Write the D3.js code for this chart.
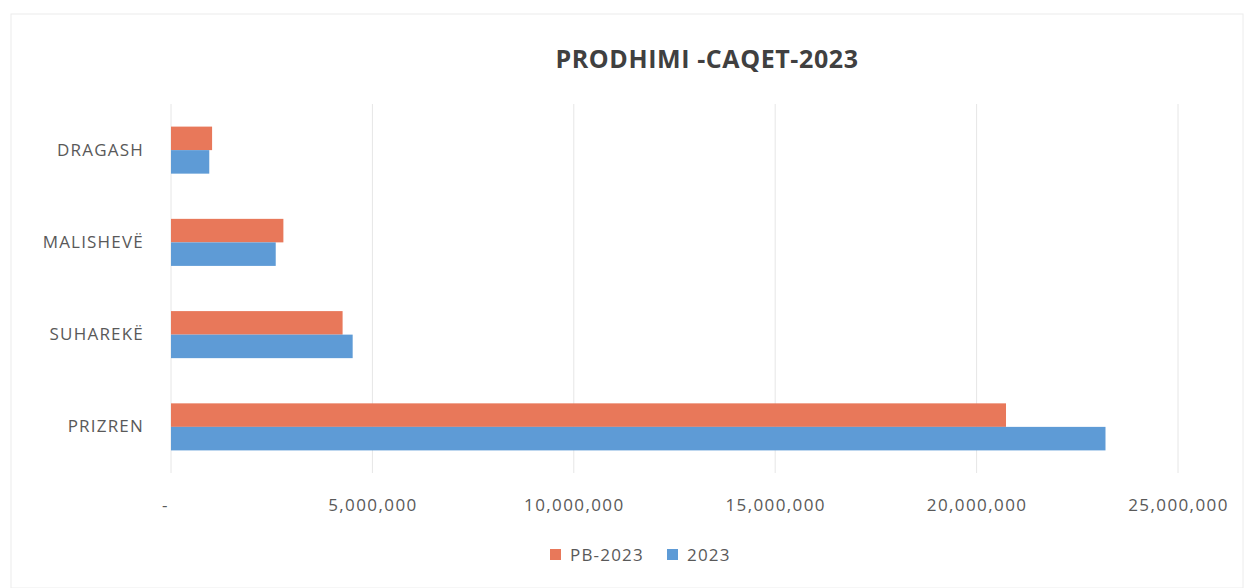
<!DOCTYPE html>
<html>
<head>
<meta charset="utf-8">
<script src="https://cdn.jsdelivr.net/npm/d3@7"></script>
<style>
    body { margin: 0; background: #fff; }
    text { font-family: "Open Sans", "Noto Sans", sans-serif; }
</style>
</head>
<body>
<div id="chart"></div>
<script>
// data
const categories = ["DRAGASH", "MALISHEVË", "SUHAREKË", "PRIZREN"]
const seriesNames = ["PB-2023", "2023"]
const pb2023 = [1020000, 2790000, 4260000, 20730000]
const y2023 = [950000, 2600000, 4510000, 23200000]
const xTicks = [0, 5000000, 10000000, 15000000, 20000000, 25000000]
const colors = ["#E8785A", "#5E9BD6"]

const W = 1254, H = 588
const MARGIN = { LEFT: 171, RIGHT: 1254 - 1178, TOP: 104, BOTTOM: 588 - 473 }
const WIDTH = W - MARGIN.LEFT - MARGIN.RIGHT
const HEIGHT = H - MARGIN.TOP - MARGIN.BOTTOM

const svg = d3.select("#chart").append("svg")
    .attr("width", W)
    .attr("height", H)

// chart area border (faint)
svg.append("rect")
    .attr("x", 11).attr("y", 14)
    .attr("width", W - 22).attr("height", H - 14)
    .attr("fill", "none")
    .attr("stroke", "#ececec")

svg.append("text")
    .attr("x", 707)
    .attr("y", 68)
    .attr("text-anchor", "middle")
    .attr("font-size", "25px")
    .attr("letter-spacing", "0.6px")
    .attr("font-weight", "bold")
    .attr("fill", "#404040")
    .text("PRODHIMI -CAQET-2023")

const g = svg.append("g")
    .attr("transform", `translate(${MARGIN.LEFT}, ${MARGIN.TOP})`)

const x = d3.scaleLinear().domain([0, 25000000]).range([0, WIDTH])
const y = d3.scaleBand().domain(categories).range([0, HEIGHT])
    .paddingInner(0.49).paddingOuter(0.245)
const ySub = d3.scaleBand().domain(seriesNames).range([0, y.bandwidth()])

// gridlines
g.selectAll(".grid")
    .data(xTicks)
    .enter().append("line")
    .attr("class", "grid")
    .attr("x1", d => x(d)).attr("x2", d => x(d))
    .attr("y1", 0).attr("y2", HEIGHT)
    .attr("stroke", "#e6e6e6")
    .attr("stroke-width", 1)

// x axis
const fmt = d3.format(",")
const xAxisCall = d3.axisBottom(x)
    .tickValues(xTicks)
    .tickSize(0)
    .tickPadding(26)
    .tickFormat(d => d === 0 ? "-" : fmt(d))
const xAxis = g.append("g")
    .attr("transform", `translate(0, ${HEIGHT})`)
    .call(xAxisCall)
xAxis.select(".domain").remove()
xAxis.selectAll("text")
    .attr("font-size", "17px")
    .attr("letter-spacing", "1.4px")
    .attr("fill", "#595959")
xAxis.selectAll(".tick").filter(d => d === 0).select("text").attr("dx", -6)

// y axis
const yAxisCall = d3.axisLeft(y).tickSize(0).tickPadding(27)
const yAxis = g.append("g").call(yAxisCall)
yAxis.select(".domain").remove()
yAxis.selectAll("text")
    .attr("font-size", "17px")
    .attr("letter-spacing", "1.2px")
    .attr("fill", "#595959")

// bars
const rows = categories.map((c, i) => ({ cat: c, values: [pb2023[i], y2023[i]] }))
const groups = g.selectAll(".cat")
    .data(rows)
    .enter().append("g")
    .attr("transform", d => `translate(0, ${y(d.cat)})`)
groups.selectAll("rect")
    .data(d => d.values.map((v, j) => ({ name: seriesNames[j], value: v, j: j })))
    .enter().append("rect")
    .attr("x", x(0))
    .attr("y", d => ySub(d.name))
    .attr("width", d => x(d.value) - x(0))
    .attr("height", ySub.bandwidth())
    .attr("fill", d => colors[d.j])

// legend
const legend = svg.append("g").attr("transform", "translate(550, 555)")
const legendItems = [
    { name: seriesNames[0], color: colors[0], dx: 0 },
    { name: seriesNames[1], color: colors[1], dx: 117 }
]
const li = legend.selectAll(".li")
    .data(legendItems)
    .enter().append("g")
    .attr("transform", d => `translate(${d.dx}, 0)`)
li.append("rect")
    .attr("x", 0).attr("y", -6)
    .attr("width", 11).attr("height", 11)
    .attr("fill", d => d.color)
li.append("text")
    .attr("x", 20)
    .attr("y", 6)
    .attr("font-size", "17px")
    .attr("letter-spacing", "1.2px")
    .attr("fill", "#595959")
    .text(d => d.name)
</script>
</body>
</html>
